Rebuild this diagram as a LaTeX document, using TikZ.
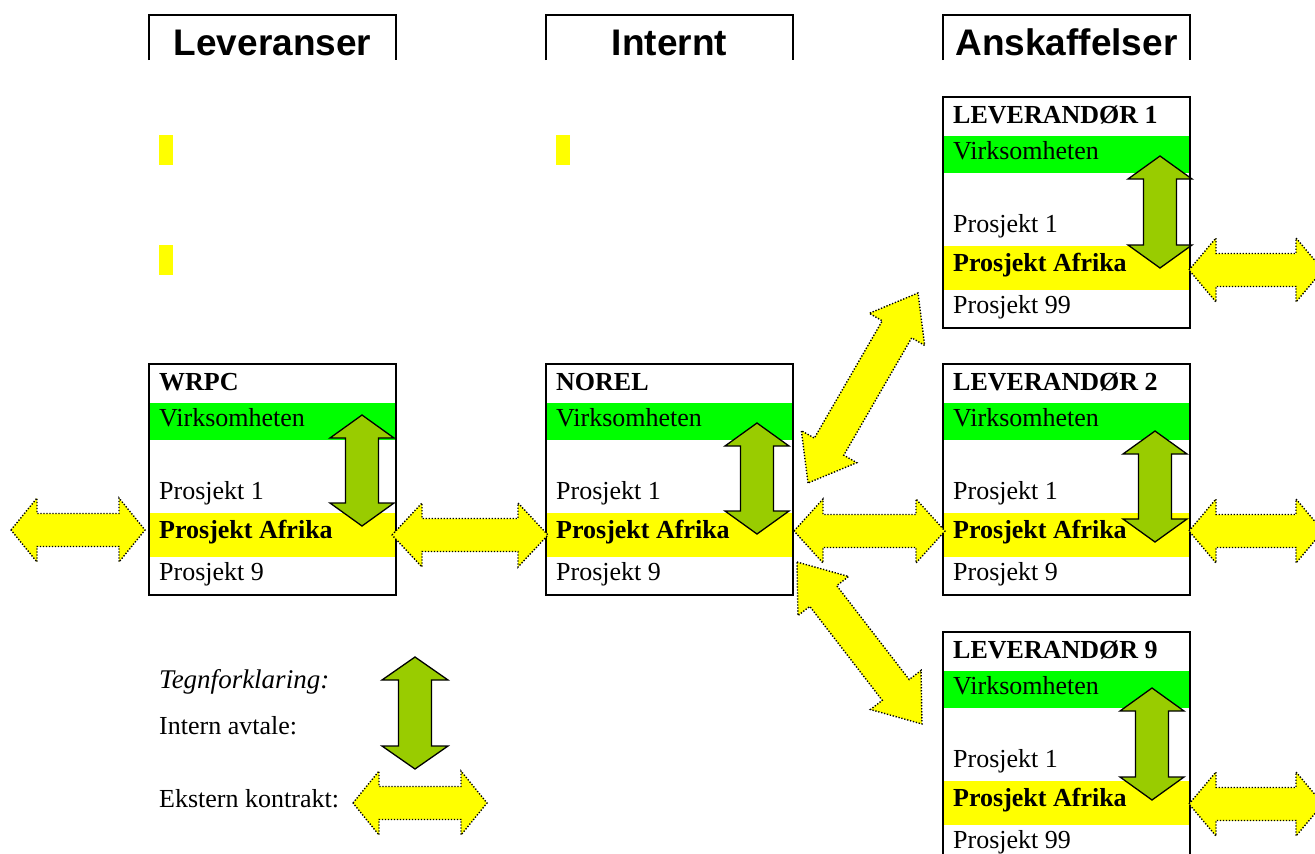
\documentclass[tikz,border=0pt]{standalone}
\usepackage{fontspec}
\setmainfont{Liberation Serif}
\newfontfamily\headfont{Liberation Sans}
\usetikzlibrary{calc}

\definecolor{bandgreen}{RGB}{0,255,0}
\definecolor{bandyellow}{RGB}{255,255,0}
\definecolor{arrowgreen}{RGB}{153,204,0}

\tikzset{
  frame/.style={line width=2.4pt},
  headbox/.style={line width=2.6pt},
  intern/.style={draw=black, line width=1.3pt, fill=arrowgreen, line join=miter},
  ekstern/.style={draw=black, line width=1.4pt, dash pattern=on 1.3pt off 1.7pt, fill=bandyellow, line join=miter},
  boxtext/.style={anchor=base west, inner sep=0pt, font=\fontsize{26}{30}\selectfont},
  headtext/.style={anchor=base, inner sep=0pt, font=\headfont\bfseries\fontsize{37}{40}\selectfont},
  legendtext/.style={anchor=base west, inner sep=0pt, font=\fontsize{26}{30}\selectfont},
  marker/.style={fill=bandyellow},
}

% double block arrow from tip #2 to tip #3
% #4 head length, #5 half head width, #6 half shaft width
\newcommand\blockarrow[6]{%
  \draw[#1] (#2)
    -- ($(#2)!#4!(#3)!#5!90:(#3)$)
    -- ($(#2)!#4!(#3)!#6!90:(#3)$)
    -- ($(#3)!#4!(#2)!#6!-90:(#2)$)
    -- ($(#3)!#4!(#2)!#5!-90:(#2)$)
    -- (#3)
    -- ($(#3)!#4!(#2)!#5!90:(#2)$)
    -- ($(#3)!#4!(#2)!#6!90:(#2)$)
    -- ($(#2)!#4!(#3)!#6!-90:(#3)$)
    -- ($(#2)!#4!(#3)!#5!-90:(#3)$)
    -- cycle;}

% company box: #1 name, #2 left, #3 top, #4 title, #5 last project,
% #6 x of internal arrow, #7 its upper tip, #8 its lower tip (box-relative)
\newcommand\orgbox[8]{%
  \begin{scope}[shift={(#2,#3)}]
    \fill[bandgreen] (0,39) rectangle (247,76);
    \fill[bandyellow] (0,149) rectangle (247,193);
    \node[boxtext, font=\fontsize{26}{30}\selectfont\bfseries] (#1-title) at (10,26) {#4};
    \node[boxtext] (#1-virk) at (10,62) {Virksomheten};
    \node[boxtext] (#1-p1) at (10,135) {Prosjekt 1};
    \node[boxtext, font=\fontsize{26}{30}\selectfont\bfseries] (#1-afrika) at (10,174) {Prosjekt Afrika};
    \node[boxtext] (#1-last) at (10,216) {#5};
    \coordinate (#1-up) at (#6,#7);
    \coordinate (#1-dn) at (#6,#8);
    \blockarrow{intern}{#1-up}{#1-dn}{23pt}{32pt}{16.5pt}
    \draw[frame] (0,0) rectangle (247,231);
  \end{scope}}

\begin{document}
\begin{tikzpicture}[x=1pt, y=-1pt]
  \useasboundingbox (0,0) rectangle (1315,854);
  \clip (0,0) rectangle (1315,854);

  % column headings
  \draw[headbox] (149,60) -- (149,15) -- (396,15) -- (396,60);
  \node[headtext] (h-lev) at (272.5,55) {Leveranser};
  \draw[headbox] (546,60) -- (546,15) -- (793,15) -- (793,60);
  \node[headtext] (h-int) at (669.5,55) {Internt};
  \draw[headbox] (943,60) -- (943,15) -- (1190,15) -- (1190,60);
  \node[headtext] (h-ans) at (1066.5,55) {Anskaffelser};

  % yellow markers
  \fill[marker] (159,135) rectangle (173,165);
  \fill[marker] (159,245) rectangle (173,275);
  \fill[marker] (556,135) rectangle (570,165);

  % companies
  \orgbox{wrpc}{149}{364}{WRPC}{Prosjekt 9}{213}{51}{162}
  \orgbox{norel}{546}{364}{NOREL}{Prosjekt 9}{211}{59}{170}
  \orgbox{lev1}{943}{97}{LEVERANDØR 1}{Prosjekt 99}{217}{59}{171}
  \orgbox{lev2}{943}{364}{LEVERANDØR 2}{Prosjekt 9}{212}{67}{178}
  \orgbox{lev9}{943}{632}{LEVERANDØR 9}{Prosjekt 99}{209}{56}{168}

  % external contracts
  \coordinate (ext0-a) at (11,530);   \coordinate (ext0-b) at (145,530);
  \coordinate (ext1-a) at (392,535);  \coordinate (ext1-b) at (548,535);
  \coordinate (ext2-a) at (794,531);  \coordinate (ext2-b) at (945,531);
  \coordinate (ext3-a) at (808,483);  \coordinate (ext3-b) at (918,293);
  \coordinate (ext4-a) at (797,562);  \coordinate (ext4-b) at (922,724);
  \coordinate (ext5-a) at (1189,270); \coordinate (ext5-b) at (1323,270);
  \coordinate (ext6-a) at (1189,531); \coordinate (ext6-b) at (1323,531);
  \coordinate (ext7-a) at (1189,804); \coordinate (ext7-b) at (1323,804);
  \blockarrow{ekstern}{ext0-a}{ext0-b}{26pt}{32pt}{16.5pt}
  \blockarrow{ekstern}{ext1-a}{ext1-b}{30pt}{32pt}{16.5pt}
  \blockarrow{ekstern}{ext2-a}{ext2-b}{29pt}{32pt}{16.5pt}
  \blockarrow{ekstern}{ext3-a}{ext3-b}{42pt}{32pt}{17pt}
  \blockarrow{ekstern}{ext4-a}{ext4-b}{43pt}{32pt}{17pt}
  \blockarrow{ekstern}{ext5-a}{ext5-b}{27pt}{32pt}{16.5pt}
  \blockarrow{ekstern}{ext6-a}{ext6-b}{27pt}{32pt}{16.5pt}
  \blockarrow{ekstern}{ext7-a}{ext7-b}{27pt}{32pt}{16.5pt}

  % legend
  \node[legendtext, font=\fontsize{27}{31}\selectfont\itshape] (leg-title) at (159,688) {Tegnforklaring:};
  \node[legendtext] (leg-int) at (159,734) {Intern avtale:};
  \node[legendtext] (leg-ext) at (159,807) {Ekstern kontrakt:};
  \coordinate (leg-g-a) at (415,657); \coordinate (leg-g-b) at (415,769);
  \blockarrow{intern}{leg-g-a}{leg-g-b}{23pt}{33pt}{16.5pt}
  \coordinate (leg-y-a) at (353,803); \coordinate (leg-y-b) at (487,803);
  \blockarrow{ekstern}{leg-y-a}{leg-y-b}{26pt}{32pt}{16.5pt}
\end{tikzpicture}
\end{document}
